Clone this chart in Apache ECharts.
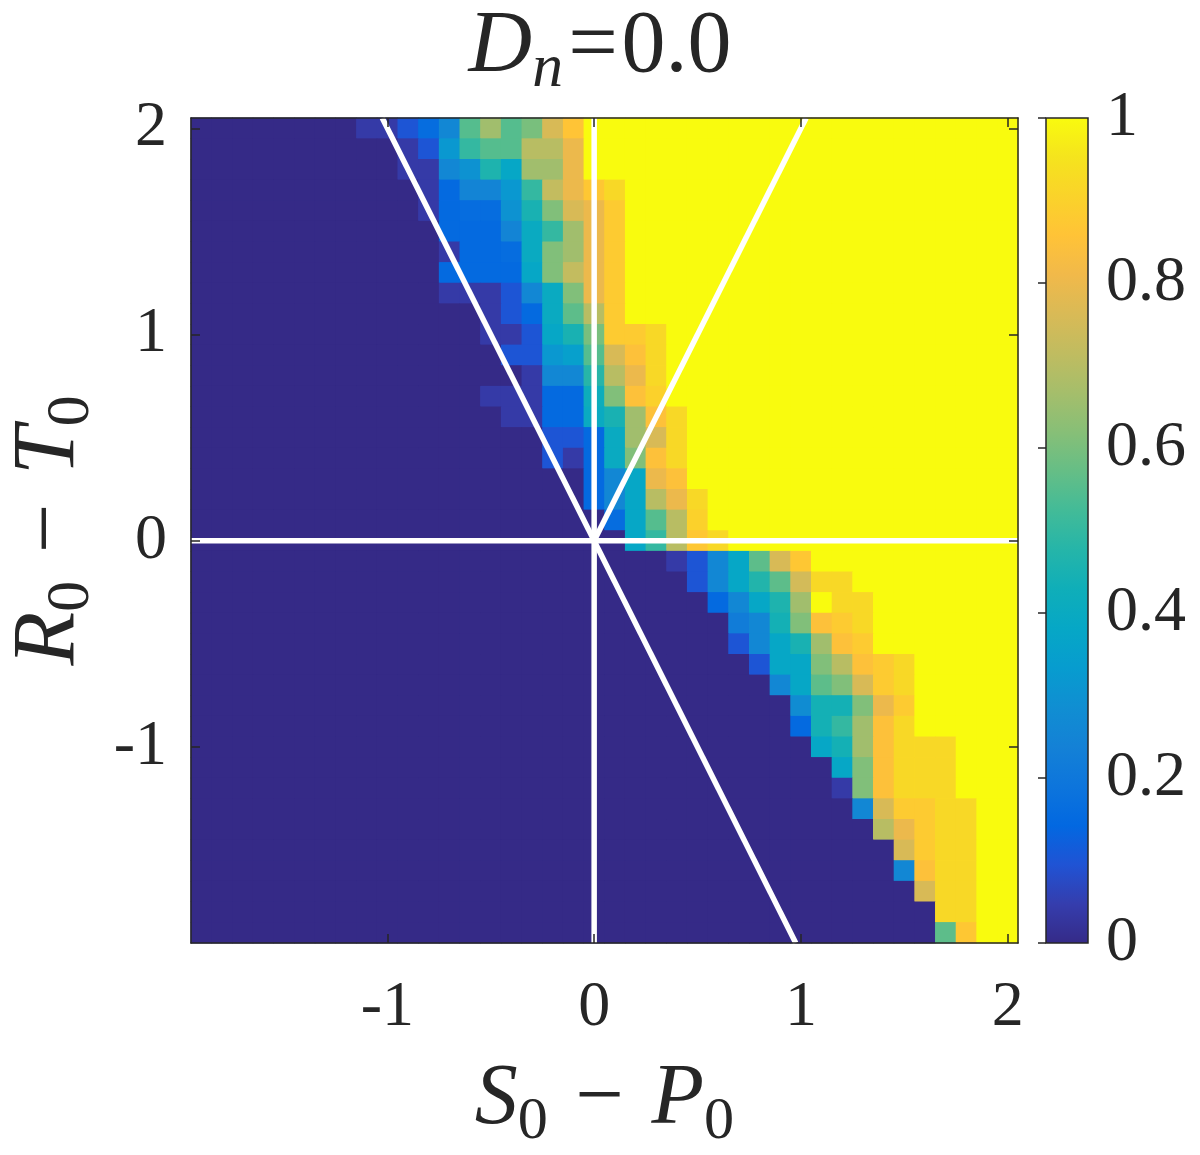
<!DOCTYPE html>
<html>
<head>
<meta charset="utf-8">
<title>D_n = 0.0</title>
<script src="https://cdn.jsdelivr.net/npm/echarts@6/dist/echarts.min.js"></script>
<style>
  html, body { margin: 0; padding: 0; background: #fff; }
  #chart { width: 1200px; height: 1155px; }
</style>
</head>
<body>
<div id="chart"></div>
<script>
// cell centres, same on both axes (S0-P0 and R0-T0)
var cellCentres = ['-1.9','-1.8','-1.7','-1.6','-1.5','-1.4','-1.3','-1.2','-1.1','-1.0',
                   '-0.9','-0.8','-0.7','-0.6','-0.5','-0.4','-0.3','-0.2','-0.1','0.0',
                   '0.1','0.2','0.3','0.4','0.5','0.6','0.7','0.8','0.9','1.0',
                   '1.1','1.2','1.3','1.4','1.5','1.6','1.7','1.8','1.9','2.0'];
var tickValues = ['-1.0', '0.0', '1.0', '2.0'];
var tickLabels = ['-1', '0', '1', '2'];

// each row: [first column of the transition, values...]; left of it 0, right of it 1
// rows from R0-T0 = 2.0 down to 0.1
var upperRows = [
  [8, 0.04, 0.04, 0.10, 0.16, 0.26, 0.55, 0.66, 0.55, 0.60, 0.76, 0.86],
  [10, 0.04, 0.10, 0.32, 0.50, 0.55, 0.55, 0.70, 0.70, 0.80],
  [10, 0.04, 0.04, 0.26, 0.30, 0.46, 0.38, 0.66, 0.66, 0.80],
  [11, 0.04, 0.15, 0.25, 0.25, 0.32, 0.50, 0.72, 0.80, 0.87, 0.92],
  [11, 0.04, 0.15, 0.16, 0.16, 0.30, 0.45, 0.61, 0.76, 0.80, 0.88],
  [12, 0.15, 0.15, 0.15, 0.25, 0.40, 0.50, 0.66, 0.80, 0.88],
  [12, 0.04, 0.15, 0.15, 0.16, 0.40, 0.61, 0.66, 0.80, 0.88],
  [12, 0.15, 0.15, 0.15, 0.15, 0.38, 0.61, 0.72, 0.80, 0.88],
  [12, 0.04, 0.04, 0.04, 0.10, 0.26, 0.40, 0.61, 0.80, 0.88],
  [14, 0.04, 0.10, 0.15, 0.40, 0.56, 0.70, 0.88],
  [14, 0.04, 0.04, 0.10, 0.38, 0.45, 0.60, 0.88, 0.88, 0.92],
  [15, 0.10, 0.10, 0.32, 0.35, 0.55, 0.76, 0.85, 0.92],
  [16, 0.04, 0.26, 0.26, 0.48, 0.70, 0.80, 0.92],
  [14, 0.04, 0.04, 0.04, 0.15, 0.15, 0.42, 0.61, 0.85, 0.90],
  [15, 0.04, 0.04, 0.15, 0.15, 0.40, 0.45, 0.66, 0.85, 0.92],
  [17, 0.10, 0.10, 0.15, 0.40, 0.66, 0.76, 0.92],
  [17, 0.10, 0.04, 0.15, 0.40, 0.61, 0.85, 0.92],
  [19, 0.15, 0.26, 0.38, 0.80, 0.85],
  [19, 0.15, 0.26, 0.38, 0.70, 0.80, 0.92],
  [20, 0.16, 0.38, 0.55, 0.70, 0.90]
];
// rows from R0-T0 = 0.0 down to -1.9
var lowerRows = [
  [21, 0.38, 0.50, 0.70, 0.87, 0.92],
  [23, 0.04, 0.10, 0.26, 0.38, 0.56, 0.76, 0.87],
  [24, 0.10, 0.26, 0.38, 0.47, 0.56, 0.75, 0.92, 0.92],
  [25, 0.15, 0.26, 0.38, 0.46, 0.66, 1.00, 0.92, 0.92],
  [26, 0.22, 0.26, 0.44, 0.61, 0.85, 0.88, 0.92],
  [26, 0.10, 0.26, 0.38, 0.45, 0.66, 0.85, 0.88],
  [27, 0.10, 0.38, 0.38, 0.61, 0.70, 0.85, 0.88, 0.92],
  [28, 0.26, 0.38, 0.56, 0.61, 0.76, 0.88, 0.92],
  [29, 0.28, 0.44, 0.44, 0.61, 0.80, 0.88],
  [29, 0.15, 0.44, 0.50, 0.66, 0.85, 0.92],
  [30, 0.38, 0.44, 0.66, 0.85, 0.92, 0.92, 0.92],
  [31, 0.38, 0.61, 0.85, 0.92, 0.92, 0.92],
  [31, 0.04, 0.61, 0.85, 0.92, 0.92, 0.92],
  [32, 0.26, 0.76, 0.88, 0.88, 0.92, 0.92],
  [33, 0.70, 0.80, 0.88, 0.92, 0.92],
  [34, 0.76, 0.88, 0.92, 0.92],
  [34, 0.26, 0.85, 0.92, 0.92],
  [35, 0.76, 0.92, 0.92],
  [36, 0.92, 0.92],
  [36, 0.56, 0.87]
];

// white guide lines, in axis units
var whiteLines = [
  [[-1.95, 0], [2.05, 0]],
  [[0, -1.95], [0, 2.05]],
  [[-1.025, 2.05], [0.975, -1.95]],
  [[0, 0], [1.025, 2.05]]
];

// parula, every third entry of the 64 colour map
var parula = ['#352A87', '#353DAD', '#2053D4', '#0268E1', '#0D75DC', '#1481D6',
              '#108ED2', '#079CCF', '#06A7C6', '#0FAEB9', '#25B5A9', '#42BB98',
              '#65BE86', '#87BF77', '#A5BE6B', '#C0BC60', '#D9BA56', '#F1B94A',
              '#FFC337', '#FAD32A', '#F5E41D', '#F9FB0E'];

var ink = '#262626';
var serif = '"Liberation Serif", "Times New Roman", serif';

function expandRow(row) {
  var start = row[0], vals = row.slice(1), out = [];
  for (var c = 0; c < cellCentres.length; c++) {
    if (c < start) out.push(0);
    else if (c < start + vals.length) out.push(vals[c - start]);
    else out.push(1);
  }
  return out;
}

var heatData = [];
var n = cellCentres.length;
upperRows.concat(lowerRows).forEach(function (row, j) {
  expandRow(row).forEach(function (v, i) {
    heatData.push([i, n - 1 - j, v]);
  });
});

function mathRich(size) {
  var base = { fontFamily: serif, fontWeight: 'normal', color: ink };
  return {
    v: Object.assign({ fontStyle: 'italic', fontSize: size }, base),
    si: Object.assign({ fontStyle: 'italic', fontSize: size * 0.7, padding: [size * 0.5, 0, 0, 0] }, base),
    s: Object.assign({ fontSize: size * 0.7, padding: [size * 0.5, 0, 0, 0] }, base),
    op: Object.assign({ fontSize: size, padding: [0, size * 0.32, 0, size * 0.32] }, base),
    eq: Object.assign({ fontSize: size, padding: [0, size * 0.04, 0, size * 0.06] }, base),
    m: Object.assign({ fontSize: size }, base)
  };
}

function isTick(index, value) {
  return tickValues.indexOf(value) >= 0;
}

function catAxis(pos, grid, extra) {
  var ax = {
    type: 'category',
    gridIndex: grid,
    position: pos,
    data: cellCentres,
    z: 10,
    axisLine: { show: true, onZero: false, lineStyle: { color: ink, width: 1.5 } },
    axisTick: { show: true, inside: true, length: 9, alignWithLabel: true, interval: isTick,
                lineStyle: { color: ink, width: 1.5 } },
    axisLabel: { show: false },
    splitLine: { show: false }
  };
  for (var k in extra) ax[k] = extra[k];
  return ax;
}

var tickLabel = {
  show: true,
  interval: isTick,
  formatter: function (v) { return tickLabels[tickValues.indexOf(v)]; },
  fontFamily: serif,
  fontSize: 64,
  color: ink
};

var chart = echarts.init(document.getElementById('chart'));

// the cells are drawn twice so the anti-aliased cell edges leave no light seams
var heatSeries = [0, 1].map(function () {
  return {
    type: 'heatmap',
    xAxisIndex: 0,
    yAxisIndex: 0,
    data: heatData,
    progressive: 0,
    silent: true,
    emphasis: { disabled: true },
    itemStyle: { borderWidth: 0 }
  };
});

var lineSeries = whiteLines.map(function (seg) {
  return {
    type: 'line',
    xAxisIndex: 2,
    yAxisIndex: 2,
    data: seg,
    z: 5,
    symbol: 'none',
    silent: true,
    lineStyle: { color: '#ffffff', width: 5.5 }
  };
});

chart.setOption({
  animation: false,
  backgroundColor: '#fff',
  title: {
    text: '{v|D}{si|n}{eq|=}{m|0.0}',
    left: 'center',
    top: -10,
    textStyle: { rich: mathRich(88) }
  },
  grid: [
    { left: 191, top: 118, width: 827, height: 825, outerBoundsMode: 'none', containLabel: false },
    { left: 191, top: 118, width: 827, height: 825, outerBoundsMode: 'none', containLabel: false },
    { left: 1046, top: 118, width: 42, height: 825, outerBoundsMode: 'none', containLabel: false,
      show: true, borderColor: ink, borderWidth: 1.5,
      backgroundColor: new echarts.graphic.LinearGradient(0, 1, 0, 0,
        parula.map(function (c, i) { return { offset: i / (parula.length - 1), color: c }; })) }
  ],
  xAxis: [
    catAxis('bottom', 0, {
      axisLabel: Object.assign({ margin: 33 }, tickLabel),
      name: '{v|S}{s|0}{op|−}{v|P}{s|0}',
      nameLocation: 'middle',
      nameGap: 106,
      nameTextStyle: { rich: mathRich(86) }
    }),
    catAxis('top', 0, {}),
    { type: 'value', gridIndex: 1, min: -1.95, max: 2.05, show: false },
    { type: 'value', gridIndex: 2, min: 0, max: 1, show: false }
  ],
  yAxis: [
    catAxis('left', 0, {
      axisLabel: Object.assign({ margin: 24 }, tickLabel),
      name: '{v|R}{s|0}{op|−}{v|T}{s|0}',
      nameLocation: 'middle',
      nameRotate: 90,
      nameGap: 86,
      nameTextStyle: { rich: mathRich(88) }
    }),
    catAxis('right', 0, {}),
    { type: 'value', gridIndex: 1, min: -1.95, max: 2.05, show: false },
    {
      type: 'value', gridIndex: 2, position: 'right', min: 0, max: 1, interval: 0.2, z: 10,
      axisLine: { show: false },
      axisTick: { show: true, inside: true, length: 8, lineStyle: { color: ink, width: 1.5 } },
      axisLabel: { margin: 18, fontFamily: serif, fontSize: 64, color: ink },
      splitLine: { show: false }
    }
  ],
  visualMap: {
    show: false,
    type: 'continuous',
    min: 0,
    max: 1,
    seriesIndex: [0, 1],
    dimension: 2,
    inRange: { color: parula }
  },
  series: heatSeries.concat(lineSeries)
});
</script>
</body>
</html>
